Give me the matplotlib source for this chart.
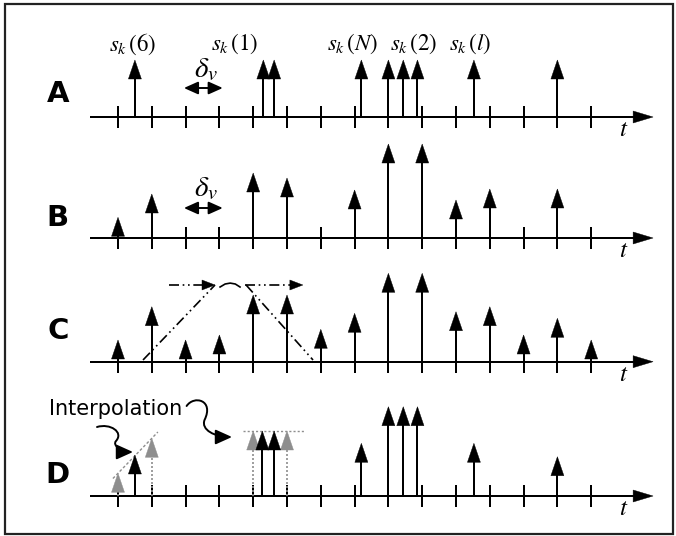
import numpy as np
import matplotlib
matplotlib.use('Agg')
import matplotlib.pyplot as plt
from matplotlib.patches import Polygon, FancyArrowPatch, Rectangle
from matplotlib.path import Path

plt.rcParams['mathtext.fontset'] = 'stix'

# ---------------- data (x in tick units, heights in px above baseline) -------------
tick_pos = list(range(15))

a_pos = [0.5, 4.3, 4.62, 7.2, 8.0, 8.44, 8.86, 10.53, 13.0]
a_h = [57, 57, 57, 57, 57, 57, 57, 57, 57]
a_labels = [r'$s_k\,(6)$', r'$s_k\,(1)$', r'$s_k\,(N)$', r'$s_k\,(2)$', r'$s_k\,(l)$']
a_label_pos = [0.44, 3.46, 6.95, 8.75, 10.41]

b_pos = [0, 1, 4, 5, 7, 8, 9, 10, 11, 13]
b_h = [20.7, 44, 65, 60, 48, 94, 94, 38, 49, 49]

c_pos = list(range(15))
c_h = [21.7, 55, 21.7, 26.7, 66.7, 66.7, 32.4, 48.4, 88.4, 88.4, 50, 55, 26.7, 43.4, 21.7]

d_pos = [0.5, 4.27, 4.62, 7.2, 8.0, 8.44, 8.86, 10.53, 13.0]
d_h = [41, 65, 65, 52.7, 89.3, 89.3, 89.3, 52.7, 39.3]
dg_pos = [0, 1, 4, 5]          # interpolated (grey) samples
dg_h = [22.7, 57.7, 65, 65]

# window shape in panel C
c_rise_k = [0.74, 2.87]
c_rise_h = [1.7, 76.7]
c_fall_k = [3.79, 5.77]
c_fall_h = [76.7, 1.7]
c_hump_k = [3.02, 3.17, 3.32, 3.47, 3.61]
c_hump_h = [74.7, 77.7, 78.6, 77.7, 74.7]
c_harrow_left = [1.51, 2.87]
c_harrow_right = [3.76, 5.47]
c_harrow_h = 76.7

# interpolation guide lines in panel D
d_slope_k = [-0.15, 1.18]
d_slope_h = [17.5, 64]
d_flat_k = [3.69, 5.53]
d_flat_h = [65, 65]

# ---------------- layout --------------------------------------------------------
W, H = 676, 536
PX = 33.8      # px per tick
X0 = 118       # px of tick 0
baselines = [117, 238, 361.7, 496]
letters = ['A', 'B', 'C', 'D']
letter_h = [23, 20.5, 31, 21]

HL = 19.0          # arrow head length (px)
HW = 13.0 / PX     # arrow head width (tick units)
LW = 1.44          # ~2 px
GREY = '#8e8e8e'

fig = plt.figure(figsize=(W / 100, H / 100), dpi=100)
fig.patch.set_facecolor('white')


def make_axes(base):
    ax = fig.add_axes([0, (H - (base + 40)) / H, 1, 160 / H])
    ax.set_xlim(-X0 / PX, (W - X0) / PX)
    ax.set_ylim(-40, 120)
    ax.axis('off')
    return ax


def stem(ax, x, h, color='k', dotted=False):
    if dotted:
        ax.plot([x, x], [0, h - HL], color=color, lw=1.2, ls=(0, (1.2, 1.2)),
                clip_on=False, zorder=2)
    else:
        ax.plot([x, x], [0, h - HL + 1], color=color, lw=LW,
                solid_capstyle='butt', clip_on=False, zorder=3)
    ax.add_patch(Polygon([[x - HW / 2, h - HL], [x + HW / 2, h - HL], [x, h]],
                         closed=True, fc=color, ec=color, lw=0.3,
                         clip_on=False, zorder=3))


def time_axis(ax):
    ax.plot([-0.83, 15.3], [0, 0], color='k', lw=LW, solid_capstyle='butt',
            clip_on=False, zorder=2)
    ax.add_patch(Polygon([[15.24, -6], [15.24, 6], [15.83, 0]], closed=True,
                         fc='k', ec='k', lw=0.3, clip_on=False, zorder=3))
    ax.vlines(tick_pos, -11, 11, color='k', lw=LW, clip_on=False, zorder=2)
    ax.text(14.97, -12, r'$t$', fontsize=18, ha='center', va='center')


def delta_marker(ax, yarrow, ylabel):
    ax.annotate('', xy=(3.10, yarrow), xytext=(1.95, yarrow),
                arrowprops=dict(arrowstyle='<|-|>,head_length=0.85,head_width=0.38',
                                mutation_scale=10, lw=1.4, color='k',
                                shrinkA=0, shrinkB=0))
    ax.text(2.6, ylabel, r'$\delta_v$', fontsize=21, ha='center', va='center')


axes = [make_axes(b) for b in baselines]
for ax, L, lh in zip(axes, letters, letter_h):
    time_axis(ax)
    ax.text(-1.78, lh, L, fontsize=21, fontweight='heavy', ha='center',
            va='center', family='DejaVu Sans')

# Panel A
axA = axes[0]
for x, h in zip(a_pos, a_h):
    stem(axA, x, h)
for x, lab in zip(a_label_pos, a_labels):
    axA.text(x, 73, lab, fontsize=16.5, ha='center', va='center')
delta_marker(axA, 29, 48)

# Panel B
axB = axes[1]
for x, h in zip(b_pos, b_h):
    stem(axB, x, h)
delta_marker(axB, 30, 50)

# Panel C
axC = axes[2]
for x, h in zip(c_pos, c_h):
    stem(axC, x, h)
dashdotdot = (0, (6, 2.2, 1, 2.2, 1, 2.2))
axC.plot(c_rise_k, c_rise_h, color='k', lw=1.2, ls=dashdotdot, zorder=4)
axC.plot(c_fall_k, c_fall_h, color='k', lw=1.2, ls=dashdotdot, zorder=4)
axC.plot(c_hump_k, c_hump_h, color='k', lw=1.2, zorder=4)
ahl = 13 / PX
for (x0, x1) in (c_harrow_left, c_harrow_right):
    axC.plot([x0, x1 - ahl], [c_harrow_h, c_harrow_h], color='k', lw=1.2,
             ls=dashdotdot, zorder=4)
    axC.add_patch(Polygon([[x1 - ahl, c_harrow_h - 5], [x1 - ahl, c_harrow_h + 5],
                           [x1, c_harrow_h]], closed=True, fc='k', ec='k',
                          lw=0.3, zorder=4))

# Panel D
axD = axes[3]
axD.plot(d_slope_k, d_slope_h, color=GREY, lw=1.0, ls=(0, (2, 1.5)), zorder=1)
axD.plot(d_flat_k, d_flat_h, color=GREY, lw=1.0, ls=(0, (1.5, 1.5)), zorder=1)
for x, h in zip(dg_pos, dg_h):
    stem(axD, x, h, color=GREY, dotted=True)
for x, h in zip(d_pos, d_h):
    stem(axD, x, h)
axD.text(-2.04, 87, 'Interpolation', fontsize=15, ha='left', va='center',
         family='DejaVu Sans')

curl1 = Path([(-0.621, 69), (-0.237, 73), (0.178, 64), (-0.059, 55),
              (-0.178, 50.5), (0.118, 44), (0.444, 44)],
             [Path.MOVETO, Path.CURVE4, Path.CURVE4, Path.CURVE4,
              Path.CURVE4, Path.CURVE4, Path.CURVE4])
curl2 = Path([(2.03, 90), (2.25, 101), (2.85, 96), (2.56, 76),
              (2.45, 66), (2.870, 59), (3.373, 59)],
             [Path.MOVETO, Path.CURVE4, Path.CURVE4, Path.CURVE4,
              Path.CURVE4, Path.CURVE4, Path.CURVE4])
for p in (curl1, curl2):
    axD.add_patch(FancyArrowPatch(path=p, transform=axD.transData,
                                  arrowstyle='-|>,head_length=1.0,head_width=0.45',
                                  mutation_scale=10, lw=1.4, color='k',
                                  clip_on=False))

# frame
fig.add_artist(Rectangle((5 / W, 2 / H), 668 / W, 530 / H, transform=fig.transFigure,
                         fill=False, lw=1.6, ec='#222222'))

fig.savefig('out.png', dpi=100)
